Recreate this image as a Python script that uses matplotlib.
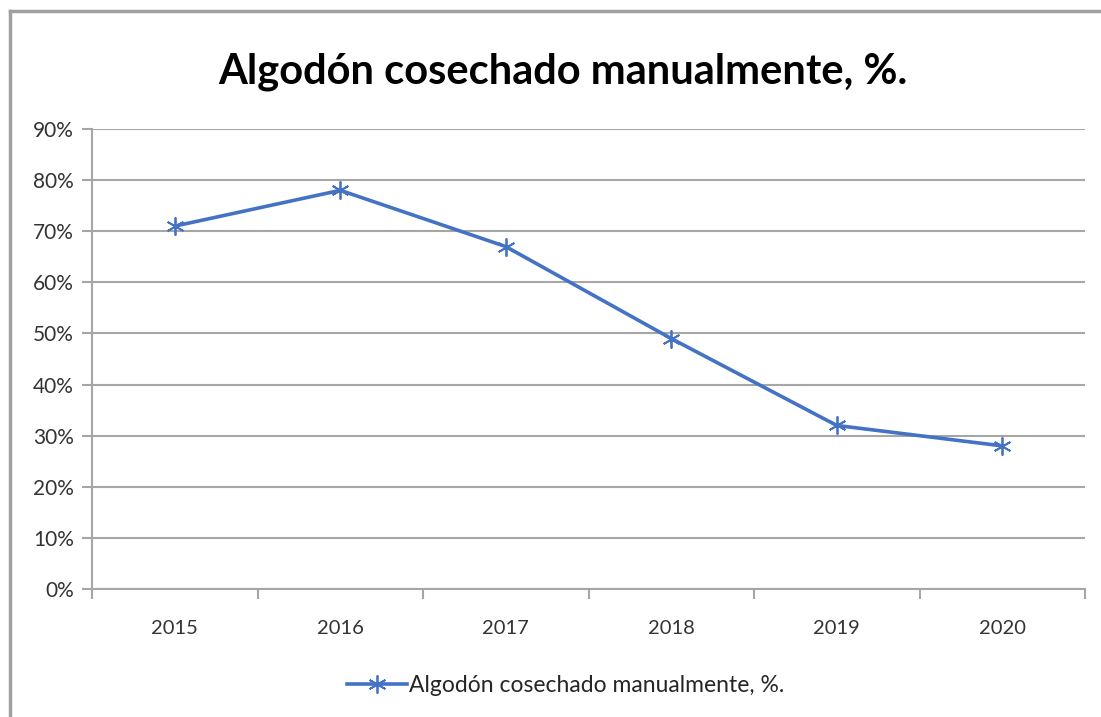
import matplotlib
matplotlib.use("Agg")
import matplotlib.pyplot as plt
from matplotlib.lines import Line2D
from matplotlib.ticker import PercentFormatter
import numpy as np

# Datos
years = ["2015", "2016", "2017", "2018", "2019", "2020"]
manual_pct = [71, 78, 67, 49, 32, 28]
y_ticks = [0, 10, 20, 30, 40, 50, 60, 70, 80, 90]
title = "Algodón cosechado manualmente, %."

plt.rcParams['font.family'] = ['Lato', 'DejaVu Sans']

W, H = 1101, 717
fig = plt.figure(figsize=(W / 100, H / 100), dpi=100)
ax = fig.add_axes([92 / W, 1 - 589 / H, 993 / W, 460 / H])

x = np.arange(len(years))
ax.plot(x, manual_pct, color='#4472C4', linewidth=2.6,
        marker=(6, 2, 0), markersize=13, markeredgewidth=1.3,
        label=title, zorder=3)

# Ejes estilo Excel
ax.set_xlim(-0.5, len(years) - 0.5)
ax.set_ylim(0, 90)
ax.set_yticks(y_ticks)
ax.yaxis.set_major_formatter(PercentFormatter(decimals=0))
ax.grid(axis='y', color='#a6a6a6', linewidth=1.5)
ax.set_axisbelow(True)
for side in ['top', 'right']:
    ax.spines[side].set_visible(False)
for side in ['left', 'bottom']:
    ax.spines[side].set_color('#a6a6a6')
    ax.spines[side].set_linewidth(1.5)

ax.set_xticks(x)
ax.set_xticklabels(years)
ax.set_xticks(np.arange(-0.5, len(years)), minor=True)
ax.tick_params(axis='x', which='major', length=0, pad=22,
               labelsize=14.5, labelcolor='#333333')
ax.tick_params(axis='x', which='minor', length=7, width=1.5,
               color='#a6a6a6', direction='out')
ax.tick_params(axis='y', length=7, width=1.5, color='#a6a6a6',
               pad=6, labelsize=15, labelcolor='#333333')

fig.text(563 / W, 1 - 72 / H, title, ha='center', va='center',
         fontsize=30, fontweight='bold', color='black')

handle = Line2D([], [], color='#4472C4', linewidth=2.6,
                marker=(6, 2, 0), markersize=13, markeredgewidth=1.3)
fig.legend([handle], [title], loc='center', frameon=False,
           bbox_to_anchor=(566 / W, 1 - 686 / H), fontsize=16.5,
           handlelength=2.6, handletextpad=0.1, labelcolor='#262626')

# Marco del gráfico
fig.add_artist(Line2D([10 / W, 10 / W], [0, 1 - 11 / H],
                      transform=fig.transFigure, color='#a0a0a0', linewidth=2.5))
fig.add_artist(Line2D([10 / W, 1], [1 - 11 / H, 1 - 11 / H],
                      transform=fig.transFigure, color='#a0a0a0', linewidth=2.5))

fig.savefig("out.png", dpi=100)
